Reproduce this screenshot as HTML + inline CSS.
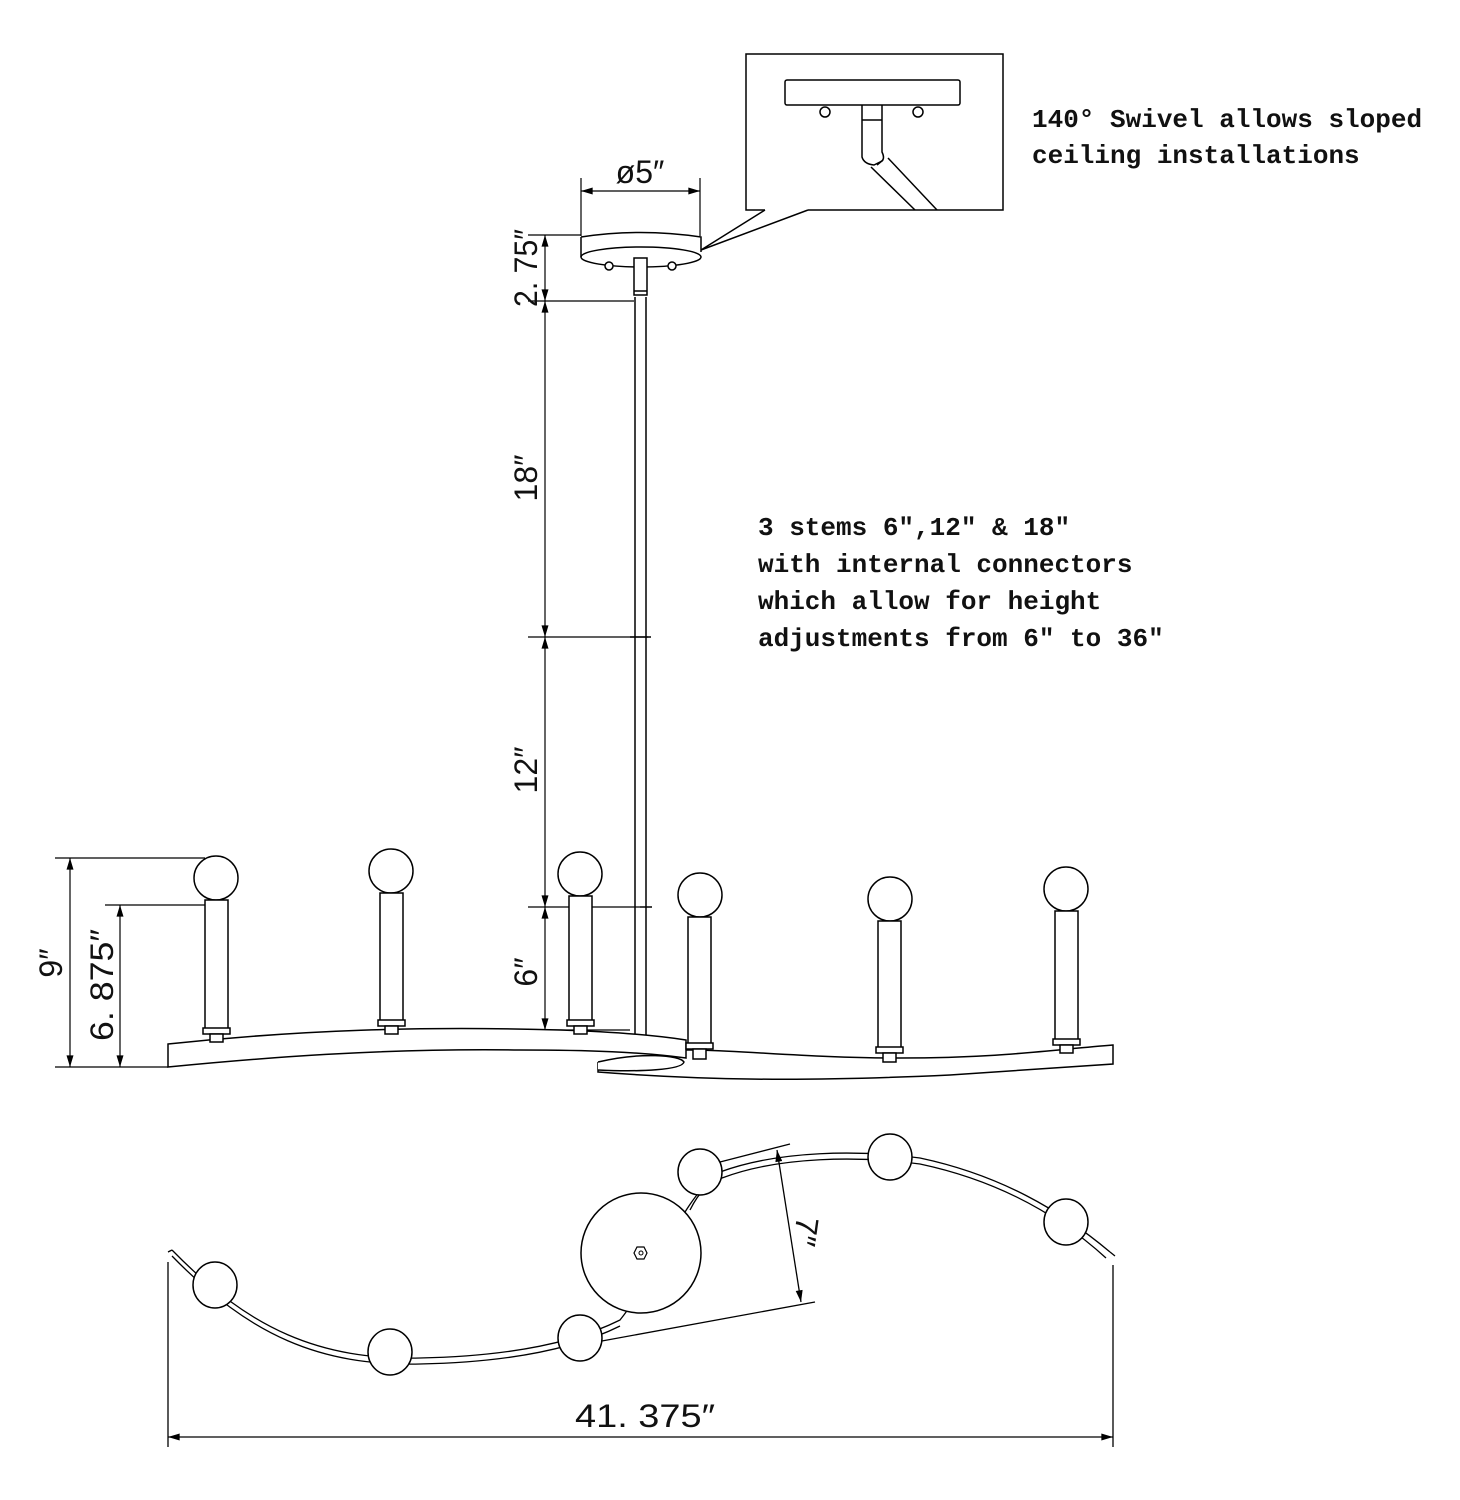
<!DOCTYPE html>
<html><head><meta charset="utf-8"><style>
html,body{margin:0;padding:0;background:#fff}
svg{display:block}
.t{font-family:"Liberation Mono",monospace;font-weight:bold;font-size:26px;fill:#111}
.d{font-family:"Liberation Sans",sans-serif;font-size:32px;fill:#111}
</style></head><body>
<svg width="1460" height="1500" viewBox="0 0 1460 1500" xmlns="http://www.w3.org/2000/svg">
<defs>
<marker id="a" viewBox="0 0 10 6" refX="10" refY="3" markerWidth="20" markerHeight="7" markerUnits="userSpaceOnUse" orient="auto-start-reverse"><path d="M0,0L10,3L0,6z" fill="#000"/></marker>
</defs>
<g stroke="#000" stroke-width="1.5" fill="none">
<polyline points="765,210 746,210 746,54 1003,54 1003,210 808,210" />
<path d="M765,210 L701,250 L808,210"/>
<rect x="785" y="80" width="175" height="25" rx="2"/>
<circle cx="825" cy="112" r="5"/><circle cx="918" cy="112" r="5"/>
<path d="M862,105 V157 Q864,164 874,165 L882,161 Q885,158 882,152 V105"/>
<line x1="862" y1="120" x2="882" y2="120"/>
<path d="M877,165 L883,160 M871,167 L915,210 M888,158 L937,210"/>
<path d="M581,237 Q640,228 701,237 V252 M581,237 V257"/>
<ellipse cx="641" cy="257" rx="60" ry="10"/>
<circle cx="609" cy="266" r="4" fill="#fff"/><circle cx="672" cy="266" r="4" fill="#fff"/>
<rect x="634" y="258" width="13" height="37" fill="#fff"/>
<line x1="634" y1="291" x2="647" y2="291"/>
<line x1="635" y1="297" x2="635" y2="1038"/>
<line x1="646" y1="297" x2="646" y2="1038"/>
<line x1="630" y1="637" x2="651" y2="637"/>
<line x1="640" y1="907" x2="652" y2="907"/>
</g>
<g stroke="#000" stroke-width="1.2" fill="none">
<line x1="581" y1="178" x2="581" y2="236"/><line x1="700" y1="178" x2="700" y2="236"/>
<line x1="581" y1="191" x2="700" y2="191" marker-start="url(#a)" marker-end="url(#a)"/>
<line x1="528" y1="235" x2="581" y2="235"/>
<line x1="528" y1="301" x2="634" y2="301"/>
<line x1="528" y1="637" x2="648" y2="637"/>
<line x1="528" y1="907" x2="640" y2="907"/>
<line x1="528" y1="1030" x2="630" y2="1030"/>
<line x1="545" y1="235" x2="545" y2="301" marker-start="url(#a)" marker-end="url(#a)"/>
<line x1="545" y1="301" x2="545" y2="637" marker-start="url(#a)" marker-end="url(#a)"/>
<line x1="545" y1="637" x2="545" y2="907" marker-start="url(#a)" marker-end="url(#a)"/>
<line x1="545" y1="907" x2="545" y2="1030" marker-start="url(#a)" marker-end="url(#a)"/>
<line x1="55" y1="858" x2="205" y2="858"/>
<line x1="55" y1="1067" x2="168" y2="1067"/>
<line x1="105" y1="905" x2="205" y2="905"/>
<line x1="70" y1="858" x2="70" y2="1067" marker-start="url(#a)" marker-end="url(#a)"/>
<line x1="120" y1="905" x2="120" y2="1067" marker-start="url(#a)" marker-end="url(#a)"/>
</g>
<g stroke="#000" stroke-width="1.5" fill="#fff">
<path d="M598,1062 L598,1072 C700,1080 800,1082 950,1075 C1020,1070 1080,1066 1113,1064 L1113,1045 C1050,1050 1000,1058 900,1058 C820,1058 760,1052 700,1050 L686,1050"/>
<path d="M598,1062 C640,1052 680,1055 684,1062 C682,1070 640,1072 598,1070"/>
<path d="M168,1044 C300,1030 420,1026 560,1030 C620,1032 660,1036 686,1040 L686,1058 C640,1052 590,1050 520,1050 C380,1048 260,1058 168,1067 Z"/>
<circle cx="216" cy="878" r="22"/><rect x="205" y="900" width="23" height="130"/><rect x="203" y="1028" width="27" height="6"/><rect x="210" y="1034" width="13" height="8"/>
<circle cx="391" cy="871" r="22"/><rect x="380" y="893" width="23" height="129"/><rect x="378" y="1020" width="27" height="6"/><rect x="385" y="1026" width="13" height="8"/>
<circle cx="580" cy="874" r="22"/><rect x="569" y="896" width="23" height="126"/><rect x="567" y="1020" width="27" height="6"/><rect x="574" y="1026" width="13" height="8"/>
<circle cx="700" cy="895" r="22"/><rect x="688" y="917" width="23" height="128"/><rect x="686" y="1043" width="27" height="6"/><rect x="693" y="1049" width="13" height="10"/>
<circle cx="890" cy="899" r="22"/><rect x="878" y="921" width="23" height="128"/><rect x="876" y="1047" width="27" height="6"/><rect x="883" y="1053" width="13" height="9"/>
<circle cx="1066" cy="889" r="22"/><rect x="1055" y="911" width="23" height="130"/><rect x="1053" y="1039" width="27" height="6"/><rect x="1060" y="1045" width="13" height="8"/>
</g>
<g stroke="#000" stroke-width="1.3" fill="none">
<path d="M172,1250 C250,1330 320,1360 420,1358 C520,1356 580,1340 620,1320 C660,1270 680,1200 720,1172 C780,1150 860,1150 920,1158 C1000,1175 1060,1210 1110,1252"/>
<path d="M172,1256 C250,1336 320,1366 420,1364 C520,1362 580,1346 620,1326 M690,1210 C700,1190 710,1182 722,1178 C780,1156 860,1156 920,1164 C1000,1181 1060,1216 1106,1258"/>
<path d="M168,1252 L172,1250 M1110,1252 L1115,1256"/>
<line x1="720" y1="1162" x2="790" y2="1144"/>
<line x1="580" y1="1345" x2="815" y2="1302"/>
<line x1="777" y1="1150" x2="801" y2="1302" marker-start="url(#a)" marker-end="url(#a)"/>
<line x1="168" y1="1262" x2="168" y2="1447"/>
<line x1="1113" y1="1265" x2="1113" y2="1447"/>
<line x1="168" y1="1437" x2="1113" y2="1437" marker-start="url(#a)" marker-end="url(#a)"/>
</g>
<g stroke="#000" stroke-width="1.5" fill="#fff">
<circle cx="641" cy="1253" r="60"/>
<ellipse cx="215" cy="1285" rx="22" ry="23"/>
<ellipse cx="390" cy="1352" rx="22" ry="23"/>
<ellipse cx="580" cy="1338" rx="22" ry="23"/>
<ellipse cx="700" cy="1172" rx="22" ry="23"/>
<ellipse cx="890" cy="1157" rx="22" ry="23"/>
<ellipse cx="1066" cy="1222" rx="22" ry="23"/>
<polygon points="634,1253 637,1247 644,1247 647,1253 644,1259 637,1259" stroke-width="1.2"/>
<circle cx="641" cy="1253" r="2" stroke-width="1"/>
</g>
<text class="t" x="1032" y="127">140° Swivel allows sloped</text>
<text class="t" x="1032" y="163">ceiling installations</text>
<text class="t" x="758" y="535">3 stems 6″,12″ &amp; 18″</text>
<text class="t" x="758" y="572">with internal connectors</text>
<text class="t" x="758" y="609">which allow for height</text>
<text class="t" x="758" y="646">adjustments from 6″ to 36″</text>
<text class="d" x="640" y="183" text-anchor="middle">ø5″</text>
<text class="d" transform="translate(537,268) rotate(-90)" text-anchor="middle" textLength="78" lengthAdjust="spacingAndGlyphs">2. 75″</text>
<text class="d" transform="translate(537,478) rotate(-90)" text-anchor="middle">18″</text>
<text class="d" transform="translate(537,770) rotate(-90)" text-anchor="middle">12″</text>
<text class="d" transform="translate(537,972) rotate(-90)" text-anchor="middle">6″</text>
<text class="d" transform="translate(62,963) rotate(-90)" text-anchor="middle">9″</text>
<text class="d" transform="translate(113,985) rotate(-90)" text-anchor="middle" textLength="112" lengthAdjust="spacingAndGlyphs">6. 875″</text>
<text class="d" transform="translate(795,1230) rotate(98)" text-anchor="middle">7″</text>
<text class="d" x="645" y="1427" text-anchor="middle" textLength="140" lengthAdjust="spacingAndGlyphs">41. 375″</text>
</svg>
</body></html>
